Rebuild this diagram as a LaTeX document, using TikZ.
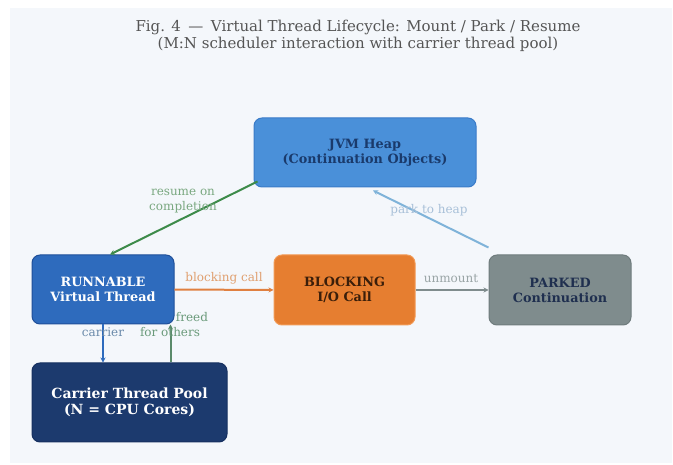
\documentclass[tikz,border=0pt]{standalone}
\usepackage{fontspec}
\setmainfont{DejaVu Serif}
\usetikzlibrary{arrows.meta,calc}
\definecolor{panel}{HTML}{F4F7FB}
\definecolor{heapc}{HTML}{4A90D9}
\definecolor{heapd}{HTML}{3A7BC8}
\definecolor{heapt}{HTML}{1A3A6B}
\definecolor{runc}{HTML}{2E6BBD}
\definecolor{rund}{HTML}{1F4F99}
\definecolor{blockc}{HTML}{E67E30}
\definecolor{blockd}{HTML}{F29A55}
\definecolor{blockt}{HTML}{3A1E0A}
\definecolor{parkc}{HTML}{7F8C8D}
\definecolor{parkd}{HTML}{6F7C7D}
\definecolor{parkt}{HTML}{1F2F4F}
\definecolor{poolc}{HTML}{1C3A6E}
\definecolor{poold}{HTML}{163060}
\definecolor{greenl}{HTML}{3D8B4A}
\definecolor{greenlab}{HTML}{7AA880}
\definecolor{freedl}{HTML}{5A8A6A}
\definecolor{freedlab}{HTML}{6A9A7A}
\definecolor{carl}{HTML}{2E6BBD}
\definecolor{carlab}{HTML}{6A8AAA}
\definecolor{orl}{HTML}{E08040}
\definecolor{orlab}{HTML}{E0A070}
\definecolor{grl}{HTML}{7F8C8D}
\definecolor{grlab}{HTML}{9AA5A6}
\definecolor{pkl}{HTML}{7FB3D9}
\definecolor{pklab}{HTML}{A8C0D8}
\definecolor{titlec}{HTML}{555555}
\tikzset{
  box/.style={rounded corners=8pt, line width=1pt, align=center, font=\bfseries\fontsize{12.8}{15}\selectfont, inner sep=0pt},
  conn/.style={line width=2pt, -{Stealth[length=5pt,width=5pt]}},
  elab/.style={font=\fontsize{12}{15}\selectfont, align=center, inner sep=1pt},
}
\begin{document}
\begin{tikzpicture}[x=1pt,y=-1pt]
\useasboundingbox (0,0) rectangle (673,465);
\fill[panel] (10,8) rectangle (672,463);
\node[font=\fontsize{15}{17}\selectfont, text=titlec, align=center] (title) at (358,35.5)
  {Fig. 4\enspace—\enspace Virtual Thread Lifecycle: Mount / Park / Resume\\(M:N scheduler interaction with carrier thread pool)};

\node[box, fill=heapc, draw=heapd, text=heapt, minimum width=222pt, minimum height=69pt] (heap) at (365,152.5) {JVM Heap\\(Continuation Objects)};
\node[box, fill=runc, draw=rund, text=white, minimum width=142pt, minimum height=69pt] (run) at (103,289.5) {RUNNABLE\\Virtual Thread};
\node[box, fill=blockc, draw=blockd, text=blockt, minimum width=141pt, minimum height=70pt] (block) at (344.5,290) {BLOCKING\\I/O Call};
\node[box, fill=parkc, draw=parkd, text=parkt, minimum width=142pt, minimum height=70pt] (park) at (560,290) {PARKED\\Continuation};
\node[box, fill=poolc, draw=poold, text=white, minimum width=195pt, minimum height=79pt, font=\bfseries\fontsize{14}{16.5}\selectfont] (pool) at (129.5,402.5) {Carrier Thread Pool\\(N = CPU Cores)};

\draw[conn, greenl] ([xshift=4pt,yshift=6pt]heap.south west) -- ([xshift=7pt]run.north);
\node[elab, text=greenlab] (lres) at (183,201.5) {resume on\\completion};

\draw[conn, pkl] ([yshift=7pt]park.north west) -- ([xshift=8pt,yshift=-3pt]heap.south);
\node[elab, text=pklab] (lpark) at (429,210) {park to heap};

\draw[conn, orl] (run.east) -- (block.west);
\node[elab, text=orlab] (lblock) at (224,278) {blocking call};

\draw[conn, grl] (block.east) -- (park.west);
\node[elab, text=grlab] (lun) at (451,279) {unmount};

\draw[conn, carl] (run.south) -- (run.south |- pool.north);
\node[elab, text=carlab] (lcar) at (103,332) {carrier};

\coordinate (fr) at ([xshift=-4pt]run.south east);
\draw[conn, freedl] (fr |- pool.north) -- (fr);
\node[elab, text=freedlab] (lfreed) at (170,324.5) {\hspace*{44pt}freed\\for others};
\end{tikzpicture}
\end{document}
